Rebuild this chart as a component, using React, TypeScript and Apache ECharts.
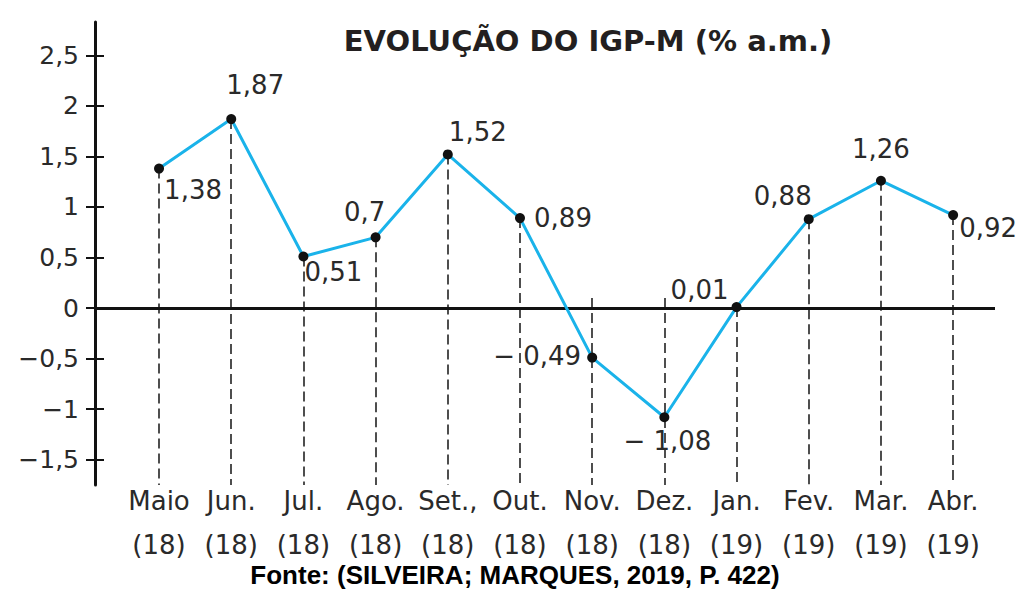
import React, { useEffect, useRef } from "react";
import * as echarts from "echarts";

const months = ["Maio", "Jun.", "Jul.", "Ago.", "Set.,", "Out.", "Nov.", "Dez.", "Jan.", "Fev.", "Mar.", "Abr."];
const years = ["18", "18", "18", "18", "18", "18", "18", "18", "19", "19", "19", "19"];
const igpm = [1.38, 1.87, 0.51, 0.7, 1.52, 0.89, -0.49, -1.08, 0.01, 0.88, 1.26, 0.92];
const yTicks = [-1.5, -1, -0.5, 0, 0.5, 1, 1.5, 2, 2.5];
// label offsets (px) relative to each point
const labelOffsets: number[][] = [
  [34, 21], [24, -34], [30, 15], [-11, -25], [30, -22], [43, 0],
  [-55, -2], [3, 24], [-37, -17], [-26, -23], [0, -32], [35, 13],
];

const Y_MIN = -1.75;
const Y_MAX = 2.83;
const X_MIN = -0.887;
const X_MAX = 11.58;
const NEG_TOP = 0.1;

const FONT = "'DejaVu Sans', sans-serif";
const TXT = "#2a2a2a";

const fmtNum = (v: number) => (v < 0 ? "\u2212 " : "") + String(Math.abs(v)).replace(".", ",");
const fmtTick = (v: number) => (v < 0 ? "\u2212" : "") + String(Math.abs(v)).replace(".", ",");

export default function App() {
  const ref = useRef<HTMLDivElement>(null);
  useEffect(() => {
    if (!ref.current) return;
    const chart = echarts.init(ref.current, undefined, { renderer: "svg" });
    const xIdx = igpm.map((_, i) => i);
    chart.setOption({
      animation: false,
      backgroundColor: "#fff",
      grid: { left: 95, right: 32, top: 22, bottom: 105 },
      graphic: [
        {
          type: "text",
          x: 588,
          y: 41,
          style: {
            text: "EVOLUÇÃO DO IGP-M (% a.m.)",
            fontFamily: FONT,
            fontWeight: "bold",
            fontSize: 29,
            fill: "#231f20",
            align: "center",
            verticalAlign: "middle",
          },
        },
        {
          type: "text",
          x: 515,
          y: 575,
          style: {
            text: "Fonte: (SILVEIRA; MARQUES, 2019, P. 422)",
            fontFamily: "'Liberation Sans', Arial, sans-serif",
            fontWeight: "bold",
            fontSize: 26,
            fill: "#000",
            align: "center",
            verticalAlign: "middle",
          },
        },
      ],
      xAxis: {
        type: "value",
        min: X_MIN,
        max: X_MAX,
        position: "bottom",
        axisLine: { show: false, onZero: false },
        axisTick: { show: false },
        splitLine: { show: false },
        axisLabel: {
          customValues: xIdx,
          formatter: (v: number) => {
            const i = Math.round(v);
            return months[i] + "\n(" + years[i] + ")";
          },
          fontFamily: FONT,
          fontSize: 26,
          color: TXT,
          lineHeight: 44,
          margin: -6,
        },
      },
      yAxis: [
        {
          type: "value",
          min: Y_MIN,
          max: Y_MAX,
          position: "left",
          axisLine: { show: true, onZero: false, lineStyle: { color: "#111", width: 3 } },
          axisTick: { show: true, customValues: yTicks, length: 9, lineStyle: { color: "#111", width: 2 } },
          splitLine: { show: false },
          axisLabel: {
            customValues: yTicks,
            formatter: fmtTick,
            fontFamily: FONT,
            fontSize: 25,
            color: TXT,
            margin: 16,
          },
        },
        {
          type: "value",
          min: Y_MIN,
          max: Y_MAX,
          position: "left",
          axisLine: { show: false, onZero: false },
          axisTick: { show: true, inside: true, customValues: yTicks, length: 9, lineStyle: { color: "#111", width: 2 } },
          splitLine: { show: false },
          axisLabel: { show: false },
        },
      ],
      series: [
        {
          type: "line",
          yAxisIndex: 0,
          data: igpm.map((v, i) => ({
            value: [i, v],
            label: {
              show: true,
              position: "inside",
              offset: labelOffsets[i],
              formatter: () => fmtNum(v),
              fontFamily: FONT,
              fontSize: 26,
              color: TXT,
            },
          })),
          symbol: "circle",
          symbolSize: 10,
          itemStyle: { color: "#111" },
          lineStyle: { color: "#1ab3ea", width: 3 },
          z: 5,
          markLine: {
            silent: true,
            symbol: ["none", "none"],
            label: { show: false },
            lineStyle: { color: "#222", width: 1.6, type: [10, 5] },
            z: 1,
            data: [
              ...igpm.map((v, i) => [
                { coord: [i, v < 0 ? NEG_TOP : v] },
                { coord: [i, Y_MIN] },
              ]),
              { yAxis: 0, lineStyle: { color: "#111", width: 3, type: "solid" } },
            ],
          },
        },
      ],
    });
    return () => chart.dispose();
  }, []);
  return (
    <div
      ref={ref}
      style={{ position: "fixed", left: 0, top: 0, width: 1027, height: 590, background: "#fff" }}
    />
  );
}
